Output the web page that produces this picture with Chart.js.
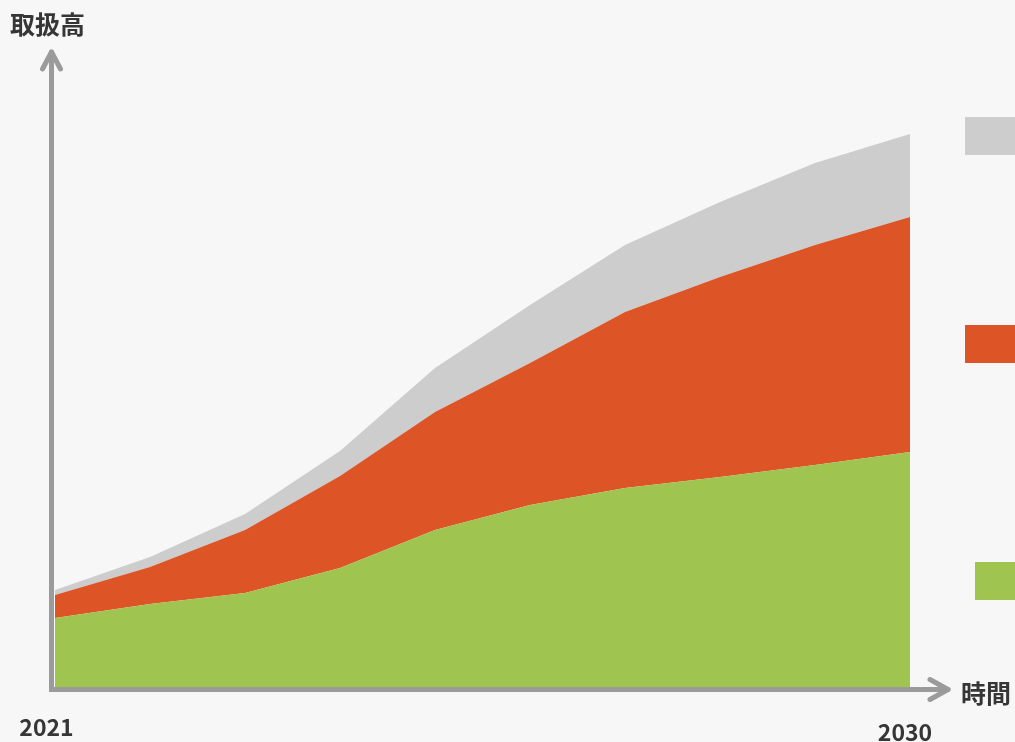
<!DOCTYPE html>
<html lang="ja">
<head>
<meta charset="UTF-8" />
<title>取扱高</title>
<script src="https://cdn.jsdelivr.net/npm/chart.js@4.4.0/dist/chart.umd.min.js"></script>
<style>
  html, body { margin: 0; padding: 0; background: #f7f7f7; }
  #wrap { width: 1015px; height: 742px; }
</style>
</head>
<body>
<div id="wrap"><canvas id="chart"></canvas></div>
<script>
  // 2021 .. 2030
  var years = ["2021", "2022", "2023", "2024", "2025", "2026", "2027", "2028", "2029", "2030"];
  // stacked layers (relative units)
  var greenVals  = [69, 83, 94, 119, 157, 182, 199, 210, 222, 235];
  var orangeVals = [23, 37, 63, 92, 118, 142, 176, 200, 220, 235];
  var grayVals   = [5, 10, 16, 25, 44, 58, 67, 75, 82, 83];
  var yMax = 600;

  var GREEN = "#a0c450", ORANGE = "#dd5527", GRAY = "#cdcdcd", AXIS = "#9b9b9b", TEXT = "#363636";
  var FONT_CJK = "bold 25px 'Noto Sans CJK JP', 'Noto Sans', sans-serif";
  var FONT_NUM = "bold 23px 'Noto Sans CJK JP', 'Noto Sans', sans-serif";

  function arrowLine(ctx, x1, y1, x2, y2) {
    ctx.beginPath();
    ctx.moveTo(x1, y1);
    ctx.lineTo(x2, y2);
    ctx.stroke();
  }

  var axesPlugin = {
    id: "axesPlugin",
    afterDatasetsDraw: function (chart) {
      var ctx = chart.ctx;
      var a = chart.chartArea;
      var xs = chart.scales.x;
      ctx.save();
      ctx.strokeStyle = AXIS;
      ctx.lineWidth = 5;
      ctx.lineJoin = "round";
      var ox = a.left - 3.5, oy = a.bottom + 2.5;
      // y axis with arrow
      ctx.lineCap = "butt";
      arrowLine(ctx, ox, oy + 2.5, ox, 52);
      ctx.lineCap = "round";
      arrowLine(ctx, ox - 9, 69, ox, 52);
      arrowLine(ctx, ox + 9, 69, ox, 52);
      // x axis with arrow
      ctx.lineCap = "butt";
      arrowLine(ctx, ox - 2.5, oy, 948, oy);
      ctx.lineCap = "round";
      arrowLine(ctx, 930, oy - 10, 948, oy);
      arrowLine(ctx, 930, oy + 10, 948, oy);

      // axis titles
      ctx.fillStyle = TEXT;
      ctx.font = FONT_CJK;
      ctx.textBaseline = "middle";
      ctx.textAlign = "left";
      ctx.fillText("取扱高", 10, 24);
      ctx.fillText("時間", 961, 693);
      ctx.font = FONT_NUM;
      ctx.textAlign = "center";
      ctx.fillText(years[0], xs.getPixelForValue(0) - 8.5, 727);
      ctx.fillText(years[years.length - 1], xs.getPixelForValue(years.length - 1) - 5, 732);

      // legend markers (labels cut off at the right edge)
      chart.data.datasets.forEach(function (ds, i) {
        var boxes = [[975, 562], [965, 325], [965, 117]];
        ctx.fillStyle = ds.backgroundColor;
        ctx.fillRect(boxes[i][0], boxes[i][1], 60, 38);
      });
      ctx.restore();
    }
  };

  new Chart(document.getElementById("chart"), {
    type: "line",
    data: {
      labels: years,
      datasets: [
        { label: "green", data: greenVals, backgroundColor: GREEN, fill: "origin" },
        { label: "orange", data: orangeVals, backgroundColor: ORANGE, fill: "-1" },
        { label: "gray", data: grayVals, backgroundColor: GRAY, fill: "-1" }
      ]
    },
    options: {
      responsive: true,
      maintainAspectRatio: false,
      animation: false,
      layout: { padding: { left: 55, right: 105, top: 87, bottom: 55 } },
      elements: {
        line: { tension: 0, borderWidth: 0 },
        point: { radius: 0, hoverRadius: 0 }
      },
      plugins: { legend: { display: false }, tooltip: { enabled: false } },
      scales: {
        x: { display: false, offset: false },
        y: { display: false, stacked: true, min: 0, max: yMax }
      }
    },
    plugins: [axesPlugin]
  });
</script>
</body>
</html>
